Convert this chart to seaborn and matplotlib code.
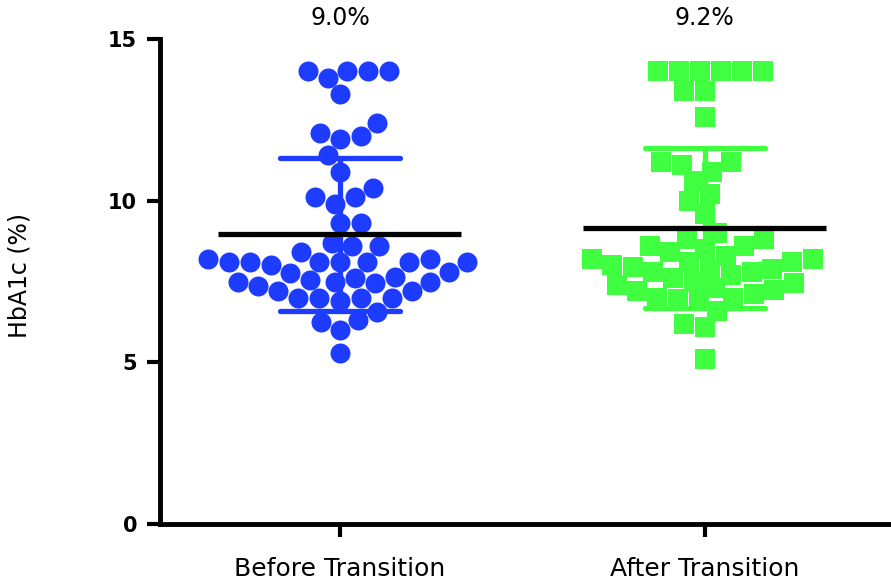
import numpy as np
import pandas as pd
import matplotlib
matplotlib.use("Agg")
import matplotlib.pyplot as plt
import seaborn as sns

groups = ["Before Transition", "After Transition"]
top_labels = ["9.0%", "9.2%"]
colors = ["#1E3CFF", "#40FF40"]
markers = ["o", "s"]

# HbA1c values
before = [14.0, 14.0, 14.0, 14.0, 13.8, 13.3, 12.4, 12.1, 12.0, 11.9, 11.4, 10.9,
          10.4, 10.1, 10.1, 9.9, 9.3, 9.3, 8.7, 8.6, 8.6, 8.4, 8.2, 8.2,
          8.1, 8.1, 8.1, 8.1, 7.75, 7.65, 7.55, 7.5, 7.35, 7.45, 7.5, 7.5,
          7.6, 7.8, 8.0, 8.1, 8.1, 8.1,
          7.2, 7.0, 7.0, 6.9, 7.0, 7.0, 7.2,
          6.55, 6.3, 6.25, 6.0, 5.3]
after = [14.0, 14.0, 14.0, 14.0, 14.0, 14.0, 13.4, 13.4, 12.6, 11.2, 11.1, 11.2,
         10.9, 10.6, 10.2, 10.0, 9.6, 9.0,
         8.8, 8.8, 8.6, 8.6, 8.5, 8.4, 8.3, 8.2, 8.2, 8.1, 8.1, 8.0, 7.95, 7.9,
         7.9, 7.8, 7.8, 7.7, 7.6, 7.5, 7.45, 7.4, 7.3, 7.25, 7.2, 7.1, 7.0, 7.0, 6.95,
         6.9, 6.6, 6.2, 6.1, 5.1]

df = pd.DataFrame({
    "group": [groups[0]] * len(before) + [groups[1]] * len(after),
    "hba1c": before + after,
})

sns.set_style("ticks")
plt.rcParams["font.family"] = ["DejaVu Sans"]
plt.rcParams["text.color"] = "black"
plt.rcParams["xtick.color"] = "black"
plt.rcParams["ytick.color"] = "black"

fig = plt.figure(figsize=(8.91, 5.79), dpi=100)
ax = fig.add_axes([160 / 891, 55 / 579, 731 / 891, 485 / 579])

for i, g in enumerate(groups):
    sub = df[df["group"] == g]
    sns.swarmplot(data=sub, x="group", y="hba1c", order=groups, color=colors[i],
                  marker=markers[i], size=14.4, linewidth=0, ax=ax, zorder=2)
    sns.pointplot(data=sub, x="group", y="hba1c", order=groups, errorbar="sd",
                  color=colors[i], capsize=0.33, marker="none", linestyle="none",
                  err_kws={"linewidth": 3.8}, ax=ax)
    m = sub["hba1c"].mean()
    ax.hlines(m, i - 0.333, i + 0.333, color="black", linewidth=3.8, zorder=5)
    ax.text(i, 15.65, top_labels[i], ha="center", va="center", fontsize=17,
            color="black", clip_on=False)

ax.set_xlim(-0.493, 1.51)
ax.set_ylim(0, 15)
ax.set_yticks([0, 5, 10, 15])
ax.set_xlabel("")
ax.set_ylabel("")
for s in ["top", "right"]:
    ax.spines[s].set_visible(False)
for s in ["left", "bottom"]:
    ax.spines[s].set_linewidth(3.5)
    ax.spines[s].set_color("black")
ax.tick_params(axis="both", length=9.5, width=3, color="black", labelcolor="black")
ax.tick_params(axis="y", pad=7, labelsize=15)
ax.tick_params(axis="x", pad=14, labelsize=18)
for lab in ax.get_yticklabels():
    lab.set_fontweight("bold")

fig.text(20 / 891, 1 - 275 / 579, "HbA1c (%)", rotation=90, ha="center",
         va="center", fontsize=17, color="black")

fig.savefig("out.png", dpi=100)
